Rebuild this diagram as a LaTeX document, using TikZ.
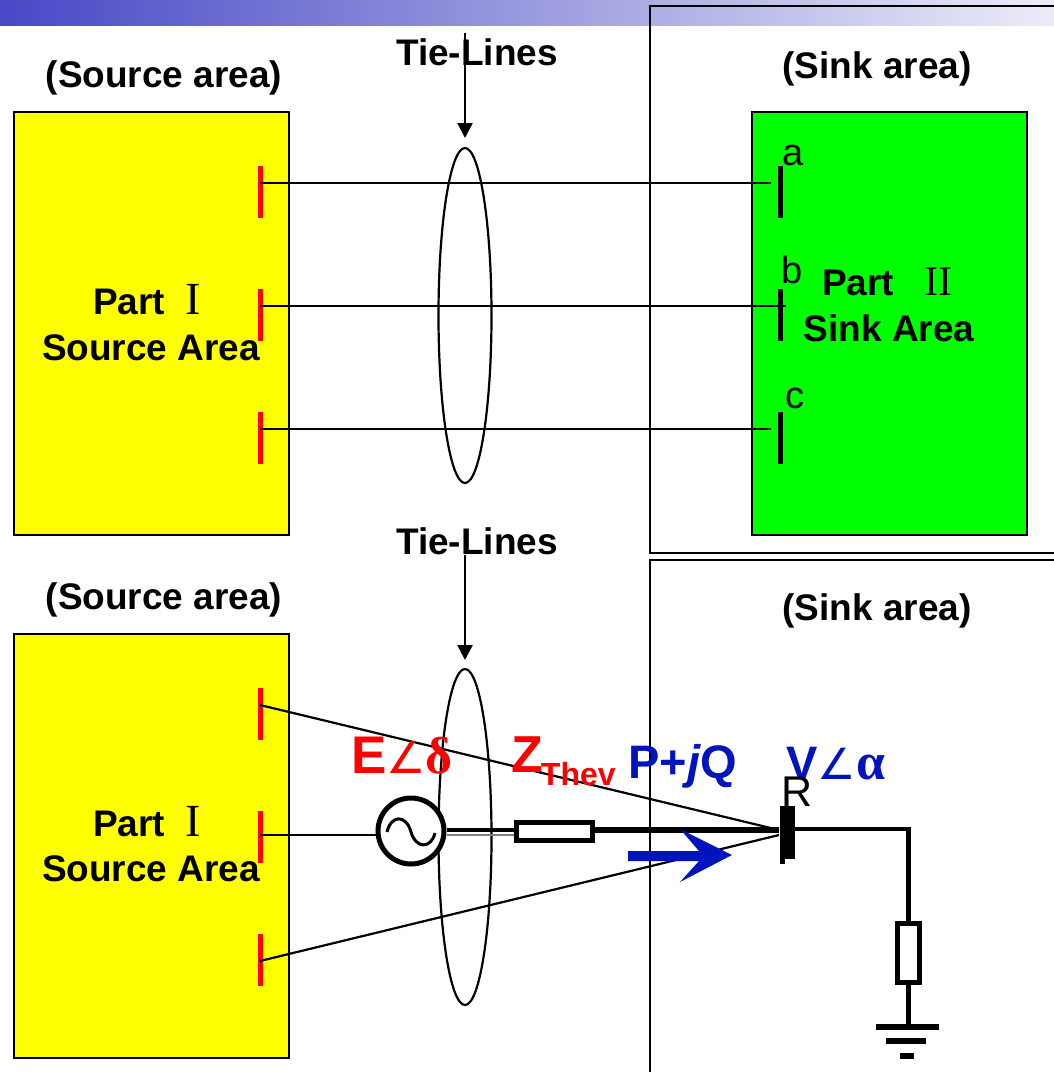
\documentclass[tikz,border=0pt]{standalone}
\usepackage{fontspec}
\setmainfont{Liberation Sans}
\newfontfamily\serifsym{Liberation Serif}
\newfontfamily\anglesym{DejaVu Sans}
\usetikzlibrary{arrows.meta}
\definecolor{headleft}{RGB}{72,72,198}
\definecolor{headright}{RGB}{236,236,248}
\definecolor{flowblue}{RGB}{0,20,190}
\definecolor{areayellow}{rgb}{1,1,0}
\definecolor{areagreen}{rgb}{0,1,0}
\definecolor{busred}{rgb}{1,0,0}
\tikzset{
	areatitle/.style={inner sep=0pt,font=\fontsize{37}{40}\selectfont\bfseries},
	partlabel/.style={inner sep=0pt,font=\fontsize{37}{40}\selectfont\bfseries},
	buslabel/.style={inner sep=0pt,font=\fontsize{38}{40}\selectfont},
	redbus/.style={draw=busred,line width=5pt},
	blackbus/.style={draw=black,line width=5pt},
	tieline/.style={line width=2.2pt},
	heavyline/.style={line width=4pt},
	tiearrow/.style={line width=2.5pt,-{Triangle[length=15pt,width=15pt]}},
	zbox/.style={draw,line width=5pt,fill=white,inner sep=0pt},
}
\newcommand{\romanone}{{\serifsym\mdseries\fontsize{46}{48}\selectfont I}}
\newcommand{\romantwo}{{\serifsym\mdseries\fontsize{42}{44}\selectfont II}}
\begin{document}
\begin{tikzpicture}[x=1pt,y=-1pt]
	\useasboundingbox (0,0) rectangle (1054,1072);
	\shade[left color=headleft,right color=headright] (0,0) rectangle (1054,25);
	\draw[line width=2.5pt] (1056,6) -- (650,6) -- (650,553) -- (1056,553);
	\draw[line width=2.5pt] (1056,560) -- (650,560) -- (650,1074);
	% upper picture
	\draw[fill=areayellow,line width=2.5pt] (14,112) rectangle (289,535);
	\draw[fill=areagreen,line width=2.5pt] (752,112) rectangle (1027,535);
	\draw[redbus] (260,166) -- (260,218);
	\draw[redbus] (260,289) -- (260,341);
	\draw[redbus] (260,412) -- (260,464);
	\draw[blackbus] (780,166) -- (780,218);
	\draw[blackbus] (780,289) -- (780,341);
	\draw[blackbus] (780,412) -- (780,464);
	\coordinate (sa) at (260,183);
	\coordinate (sb) at (260,306);
	\coordinate (sc) at (260,429);
	\coordinate (ra) at (771,183);
	\coordinate (rb) at (786,306);
	\coordinate (rc) at (771,429);
	\draw[tieline] (sa) -- (ra);
	\draw[tieline] (sb) -- (rb);
	\draw[tieline] (sc) -- (rc);
	\draw[tieline] (465,315.5) ellipse (26.5 and 167.5);
	\node[areatitle] (srctop) at (164,78) {(Source area)};
	\node[areatitle] (sinktop) at (877,69) {(Sink area)};
	\node[areatitle] (tietop) at (477,52) {Tie-Lines};
	\coordinate (tietopa) at (465,33);
	\coordinate (tietopb) at (465,138);
	\draw[tiearrow] (tietopa) -- (tietopb);
	\node[partlabel,anchor=base west] (parttop) at (93,314) {Part\kern20pt\romanone};
	\node[partlabel] (areatop) at (151,348) {Source Area};
	\node[partlabel,anchor=base west] (parttwo) at (822,295) {Part\kern30pt\romantwo};
	\node[partlabel] (areatwo) at (889,328) {Sink Area};
	\node[buslabel] (labela) at (793,155) {a};
	\node[buslabel] (labelb) at (792,270) {b};
	\node[buslabel] (labelc) at (795,398) {c};
	% lower picture
	\draw[fill=areayellow,line width=2.5pt] (14,634) rectangle (289,1058);
	\draw[redbus] (260,688) -- (260,740);
	\draw[redbus] (260,811) -- (260,863);
	\draw[redbus] (260,934) -- (260,986);
	\draw[tieline] (465,837) ellipse (26.5 and 168);
	\node[areatitle] (srcbot) at (164,600) {(Source area)};
	\node[areatitle] (sinkbot) at (877,611) {(Sink area)};
	\node[areatitle] (tiebot) at (477,541) {Tie-Lines};
	\coordinate (tiebota) at (465,555);
	\coordinate (tiebotb) at (465,660);
	\draw[tiearrow] (tiebota) -- (tiebotb);
	\node[partlabel,anchor=base west] (partbot) at (93,836) {Part\kern20pt\romanone};
	\node[partlabel] (areabot) at (151,869) {Source Area};
	\coordinate (ta) at (260,705);
	\coordinate (tb) at (260,835);
	\coordinate (tc) at (260,961);
	\coordinate (busa) at (779,830);
	\coordinate (busc) at (779,835);
	\node[draw,circle,line width=5pt,minimum size=66pt,inner sep=0pt,fill=white] (gen) at (411,831) {};
	\draw[line width=3pt] (387,832) .. controls (391,815) and (406,814) .. (411,832) .. controls (416,849) and (431,849) .. (435,833);
	\draw[tieline] (ta) -- (busa);
	\draw[tieline] (tc) -- (busc);
	\draw[tieline] (tb) -- (tb -| gen.west);
	\coordinate (busr) at (787,829);
	\coordinate (busz) at (779,830);
	\draw[line width=1.5pt,gray] (gen.east |- busc) -- (514,835);
	\node[zbox,minimum width=76pt,minimum height=18pt] (zthev) at (554,831.5) {};
	\draw[line width=4pt] (gen.east |- busz) -- (zthev.west |- busz);
	\draw[line width=6pt] (zthev.east |- busz) -- (busz);
	\fill (779.5,806) rectangle (795,859);
	\fill (779.5,859) rectangle (785,864);
	\coordinate (corner) at (908,829);
	\coordinate (gnd) at (908,1027);
	\node[zbox,minimum width=22pt,minimum height=59pt] (zload) at (908,953) {};
	\draw[heavyline] (busr) -- (corner);
	\draw[line width=5pt] (corner) ++(0,-2) -- (zload);
	\draw[line width=5pt] (zload) -- (gnd);
	\fill (876,1024) rectangle (939,1030);
	\fill (886,1038) rectangle (926,1044);
	\fill (900,1053) rectangle (914,1059);
	\fill[flowblue] (628,851) -- (699,851) -- (680,829) -- (732,855) -- (680,882) -- (699,861) -- (628,861) -- cycle;
	\node[inner sep=0pt,text=red,font=\fontsize{53}{55}\selectfont\bfseries,anchor=base west] (emf) at (351,773) {E{\anglesym\mdseries\fontsize{44}{46}\selectfont ∠}{\serifsym\bfseries\fontsize{52}{54}\selectfont δ}};
	\node[inner sep=0pt,text=red,font=\fontsize{52}{55}\selectfont\bfseries,anchor=base west] (zname) at (511,772) {Z\kern-2pt\raisebox{-13pt}{\fontsize{32}{34}\selectfont Thev}};
	\node[inner sep=0pt,text=flowblue,font=\fontsize{47}{50}\selectfont\bfseries,anchor=base west] (power) at (628,778) {P+{\itshape j}Q};
	\node[inner sep=0pt,text=flowblue,font=\fontsize{47}{50}\selectfont\bfseries,anchor=base west] (volt) at (786,779) {V{\anglesym\mdseries\fontsize{43}{45}\selectfont ∠}{\serifsym\bfseries\fontsize{52}{54}\selectfont α}};
	\node[inner sep=0pt,font=\fontsize{43}{45}\selectfont,anchor=base west] (labelr) at (781,806) {R};
\end{tikzpicture}
\end{document}
